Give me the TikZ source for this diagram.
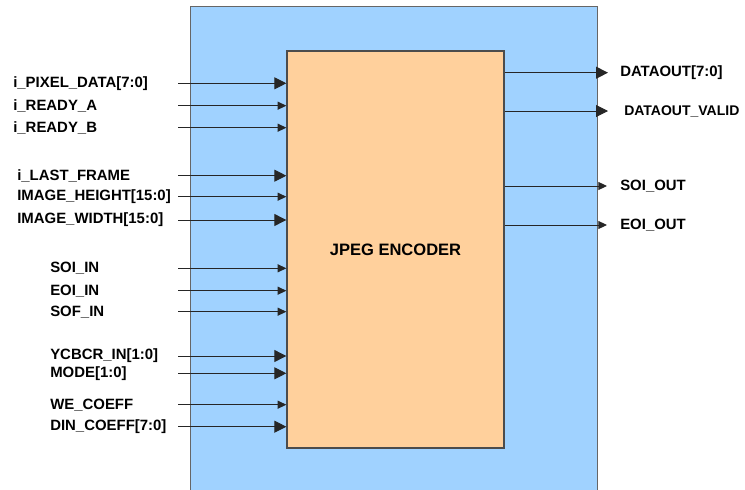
\documentclass[tikz,border=0pt]{standalone}
\usepackage{fontspec}
\setmainfont{Liberation Sans}
\usetikzlibrary{arrows.meta}
\definecolor{chipblue}{RGB}{160,210,255}
\definecolor{encorange}{RGB}{255,208,156}
\tikzset{
  sig/.style={font=\bfseries\fontsize{11.2}{13}\selectfont, anchor=west, inner sep=0pt},
  bigin/.style={draw=black!85, line width=0.75pt, -{Triangle[length=9pt,width=9pt]}},
  smallin/.style={draw=black!85, line width=0.75pt, -{Triangle[length=6.5pt,width=6pt]}},
}

\begin{document}
\begin{tikzpicture}[x=0.75pt,y=-0.75pt]
\useasboundingbox (0,0) rectangle (745,489);
% outer block and encoder core
\node[draw=black!60, fill=chipblue, line width=0.8pt, anchor=north west,
      minimum width=304.9pt, minimum height=368pt, inner sep=0pt] (chip) at (190,5.5) {};
\node[draw=black!70, fill=encorange, line width=1pt, minimum width=162.75pt,
      minimum height=297.75pt, font=\bfseries\fontsize{12.4}{14}\selectfont] (enc) at (395.5,249.5) {JPEG ENCODER};

% inputs
\node[sig] (pxl) at (13,83.3) {i\_PIXEL\_DATA[7:0]};
\node[sig] (rdya) at (13,105.7) {i\_READY\_A};
\node[sig] (rdyb) at (13,127.7) {i\_READY\_B};
\node[sig] (last) at (17,175.7) {i\_LAST\_FRAME};
\node[sig] (hgt) at (17,196.7) {IMAGE\_HEIGHT[15:0]};
\node[sig] (wdt) at (17,220) {IMAGE\_WIDTH[15:0]};
\node[sig] (soi) at (50,268.3) {SOI\_IN};
\node[sig] (eoi) at (50,290.7) {EOI\_IN};
\node[sig] (sof) at (50,311.7) {SOF\_IN};
\node[sig] (ycc) at (50,356) {YCBCR\_IN[1:0]};
\node[sig] (mode) at (50,373.3) {MODE[1:0]};
\node[sig] (we) at (50,404.7) {WE\_COEFF};
\node[sig] (din) at (50,426.7) {DIN\_COEFF[7:0]};

\coordinate (pxlS) at (178,83.3);
\coordinate (rdyaS) at (178,105.7);
\coordinate (rdybS) at (178,127.7);
\coordinate (lastS) at (178,175.7);
\coordinate (hgtS) at (178,196.7);
\coordinate (wdtS) at (178,220);
\coordinate (soiS) at (178,268.3);
\coordinate (eoiS) at (178,290.7);
\coordinate (sofS) at (178,311.7);
\coordinate (yccS) at (178,356);
\coordinate (modeS) at (178,373.3);
\coordinate (weS) at (178,404.7);
\coordinate (dinS) at (178,426.7);

\draw[bigin] (pxlS) -- (pxlS -| enc.west);
\draw[smallin] (rdyaS) -- (rdyaS -| enc.west);
\draw[smallin] (rdybS) -- (rdybS -| enc.west);
\draw[bigin] (lastS) -- (lastS -| enc.west);
\draw[smallin] (hgtS) -- (hgtS -| enc.west);
\draw[bigin] (wdtS) -- (wdtS -| enc.west);
\draw[smallin] (soiS) -- (soiS -| enc.west);
\draw[smallin] (eoiS) -- (eoiS -| enc.west);
\draw[smallin] (sofS) -- (sofS -| enc.west);
\draw[bigin] (yccS) -- (yccS -| enc.west);
\draw[bigin] (modeS) -- (modeS -| enc.west);
\draw[smallin] (weS) -- (weS -| enc.west);
\draw[bigin] (dinS) -- (dinS -| enc.west);

% outputs
\coordinate (doutE) at (608,72.7);
\coordinate (dvldE) at (608,111);
\coordinate (soioE) at (607,186);
\coordinate (eoioE) at (607,225);

\node[sig] (dout) at (620,72.7) {DATAOUT[7:0]};
\node[sig, font=\bfseries\fontsize{10.5}{13}\selectfont] (dvld) at (624,111) {DATAOUT\_VALID};
\node[sig] (soio) at (620,186) {SOI\_OUT};
\node[sig] (eoio) at (620,225) {EOI\_OUT};

\draw[bigin] (doutE -| enc.east) -- (doutE);
\draw[bigin] (dvldE -| enc.east) -- (dvldE);
\draw[smallin] (soioE -| enc.east) -- (soioE);
\draw[smallin] (eoioE -| enc.east) -- (eoioE);
\end{tikzpicture}
\end{document}
